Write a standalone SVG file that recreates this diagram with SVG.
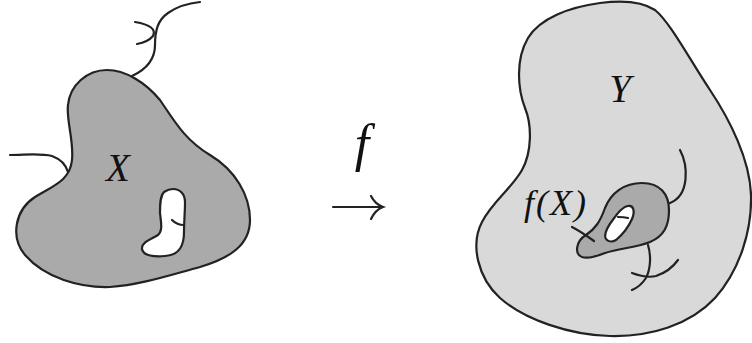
<svg xmlns="http://www.w3.org/2000/svg" width="752" height="343" viewBox="0 0 752 343">
<style>
.ol{stroke:#222;stroke-width:2.2;stroke-linejoin:round}
.st{fill:none;stroke:#222;stroke-width:2.2;stroke-linecap:round}
.dark{fill:#aaaaaa}
.light{fill:#d9d9d9}
.hole{fill:#ffffff}
.lbl{font-family:"Liberation Serif","DejaVu Serif",serif;font-style:italic;fill:#111}
</style>
<rect width="752" height="343" fill="#ffffff"/>
<g id="X">
<path class="ol dark" d="M 107 70 C 125 70, 145 82, 160 100 C 175 122, 185 140, 210 155 C 235 170, 250 195, 250 220 C 250 245, 230 258, 200 267 C 170 275, 140 285, 110 287 C 80 288, 45 278, 25 255 C 10 237, 15 210, 35 197 C 55 185, 70 180, 72 160 C 74 140, 66 120, 68 105 C 70 85, 87 70, 107 70 Z"/>
<path class="ol hole" d="M 173 189 C 180 189, 185 194, 185 202 C 185 212, 184 222, 184 232 C 184 245, 180 255, 165 256 C 155 257, 143 256, 142 249 C 141 242, 152 239, 158 235 C 163 231, 161 222, 160 213 C 160 205, 160 196, 164 192 C 167 190, 170 189, 173 189 Z"/>
<path class="st" d="M 172 220 C 175 223, 179 225, 184 225"/>
<path class="st" d="M 132 76 C 145 70, 155 60, 155 45 C 155 30, 158 20, 168 13 C 178 6, 190 3, 200 2"/>
<path class="st" d="M 135 22 Q 158 26 153 36 Q 148 42 137 44"/>
<path class="st" d="M 10 155 C 25 155, 40 153, 52 156 C 60 159, 66 165, 68 172"/>
<text class="lbl" x="118" y="181" font-size="39" text-anchor="middle">X</text>
</g>
<g id="Y">
<path class="ol light" d="M 600 3 C 615 1, 640 0, 655 10 C 670 22, 690 60, 710 90 C 730 120, 750 160, 751 195 C 752 230, 740 270, 715 298 C 690 325, 650 337, 610 336 C 570 335, 525 320, 500 298 C 478 278, 470 245, 482 222 C 492 202, 512 188, 522 170 C 532 152, 532 125, 525 108 C 518 90, 515 60, 528 38 C 540 18, 570 7, 600 3 Z"/>
<text class="lbl" x="620" y="102" font-size="39" text-anchor="middle">Y</text>
</g>
<g id="fX">
<path class="ol dark" d="M 582 257 C 574 254, 576 241, 586 235 C 595 229, 600 222, 605 208 C 611 193, 624 183, 642 183 C 660 183, 669 194, 669 210 C 669 226, 664 236, 650 242 C 635 248, 620 248, 605 253 C 595 257, 588 259, 582 257 Z"/>
<path class="ol hole" d="M 607 240 C 603 237, 606 229, 612 221 C 617 214, 622 207, 628 206 C 634 205, 635 212, 632 219 C 628 228, 622 235, 616 240 C 613 242, 609 242, 607 240 Z"/>
<path class="st" d="M 618 217 C 621 217, 624 217, 628 218"/>
<path class="st" d="M 572 227 C 580 231, 587 236, 594 241"/>
<path class="st" d="M 680 150 C 688 165, 690 195, 670 203"/>
<path class="st" d="M 648 245 C 651 255, 651 268, 646 278 C 642 284, 637 288, 632 290"/>
<path class="st" d="M 632 273 C 640 276, 648 278, 656 276 C 665 273, 673 267, 678 260"/>
<text class="lbl" x="556" y="215" font-size="36" letter-spacing="2" text-anchor="middle">f(X)</text>
</g>
<g id="connectors">
<text class="lbl" x="362" y="161" font-size="52" text-anchor="middle">f</text>
<path class="st" d="M 333 207 L 382 207"/>
<path class="st" d="M 371 196 Q 375 204 383 207 Q 375 210 371 219"/>
</g>
</svg>
